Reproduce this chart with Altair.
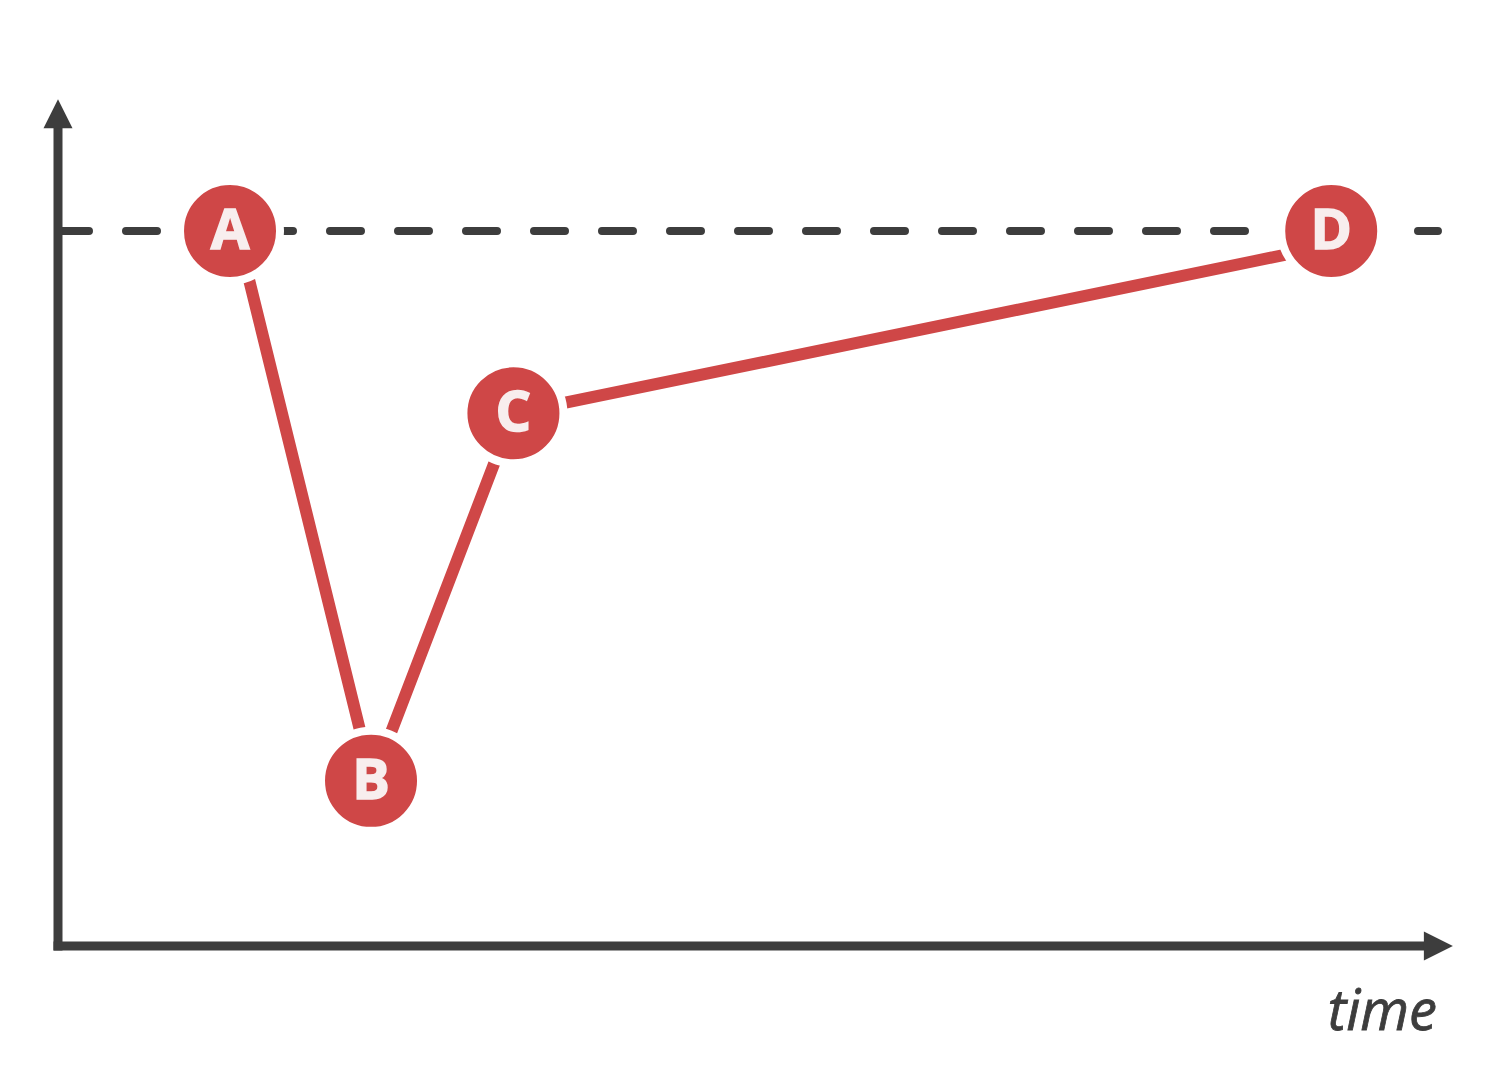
import altair as alt
import pandas as pd

# ---- data ----
labels = ["A", "B", "C", "D"]
times = [1.22, 2.22, 3.23, 9.03]          # marker positions (time)
values = [100.0, 23.1, 74.5, 100.0]       # marker positions (value)
line_times = [1.27, 2.23, 3.23, 9.03]     # path drawn behind the markers
line_values = [100.0, 23.1, 74.5, 98.0]
reference_level = 100.0

# axis extents in data units
x_max = 9.73
y_max = 114.8
x_arrow = 9.79
y_arrow = 116.4
dash_end = 9.787
time_label_x = 9.78
time_label_y = -11.75

X_DOMAIN = [-0.3546, 10.1277]
Y_DOMAIN = [-17.62, 131.19]

RED = "#cf4747"
DARK = "#3d3d3d"
LETTER = "#f8eeee"

pts = pd.DataFrame({"label": labels, "t": times, "v": values})
line_df = pd.DataFrame({"t": line_times, "v": line_values})

xs = alt.Scale(domain=X_DOMAIN, nice=False, zero=False)
ys = alt.Scale(domain=Y_DOMAIN, nice=False, zero=False)


def X(field="t"):
    return alt.X(f"{field}:Q", scale=xs, axis=None)


def Y(field="v"):
    return alt.Y(f"{field}:Q", scale=ys, axis=None)


dash_df = pd.DataFrame({"t": [0.0], "t2": [dash_end], "v": [reference_level]})
dashed = alt.Chart(dash_df).mark_rule(
    color=DARK, strokeWidth=8, strokeDash=[31, 37], strokeCap="round"
).encode(x=X("t"), x2="t2:Q", y=Y("v"))

yaxis_df = pd.DataFrame({"t": [0.0], "v": [0.0], "v2": [y_max]})
yaxis = alt.Chart(yaxis_df).mark_rule(
    color=DARK, strokeWidth=9, strokeCap="square"
).encode(x=X("t"), y=Y("v"), y2="v2:Q")

xaxis_df = pd.DataFrame({"t": [0.0], "t2": [x_max], "v": [0.0]})
xaxis = alt.Chart(xaxis_df).mark_rule(
    color=DARK, strokeWidth=9, strokeCap="square"
).encode(x=X("t"), x2="t2:Q", y=Y("v"))

up_df = pd.DataFrame({"t": [0.0], "v": [y_arrow]})
up_arrow = alt.Chart(up_df).mark_point(
    shape="M-1,1L0,-1L1,1Z", filled=True, color=DARK, opacity=1, size=841
).encode(x=X("t"), y=Y("v"))

right_df = pd.DataFrame({"t": [x_arrow], "v": [0.0]})
right_arrow = alt.Chart(right_df).mark_point(
    shape="M-1,-1L1,0L-1,1Z", filled=True, color=DARK, opacity=1, size=841
).encode(x=X("t"), y=Y("v"))

path = alt.Chart(line_df).mark_line(
    color=RED, strokeWidth=12
).encode(x=X("t"), y=Y("v"), order="t:Q")

circles = alt.Chart(pts).mark_point(
    shape="circle", filled=True, fill=RED, stroke="white", strokeWidth=8,
    size=10000, opacity=1, fillOpacity=1, strokeOpacity=1
).encode(x=X("t"), y=Y("v"))

letters = alt.Chart(pts).mark_text(
    font="Open Sans", fontWeight="bold", fontSize=56, color=LETTER,
    stroke=LETTER, strokeWidth=1.5,
    baseline="middle", align="center", dy=1
).encode(x=X("t"), y=Y("v"), text="label:N")

time_df = pd.DataFrame({"t": [time_label_x], "v": [time_label_y], "txt": ["time"]})
time_label = alt.Chart(time_df).mark_text(
    font="Open Sans", fontStyle="italic", fontSize=56, color=DARK,
    stroke=DARK, strokeWidth=0.8,
    align="right", baseline="alphabetic"
).encode(x=X("t"), y=Y("v"), text="txt:N")

chart = alt.layer(
    dashed, yaxis, xaxis, up_arrow, right_arrow, path, circles, letters, time_label
).properties(
    width=1478, height=1064, padding=0,
    autosize=alt.AutoSizeParams(type="fit", contains="padding")
).configure_view(stroke=None)

chart.save("out.html", embed_options={"renderer": "svg", "actions": False})
